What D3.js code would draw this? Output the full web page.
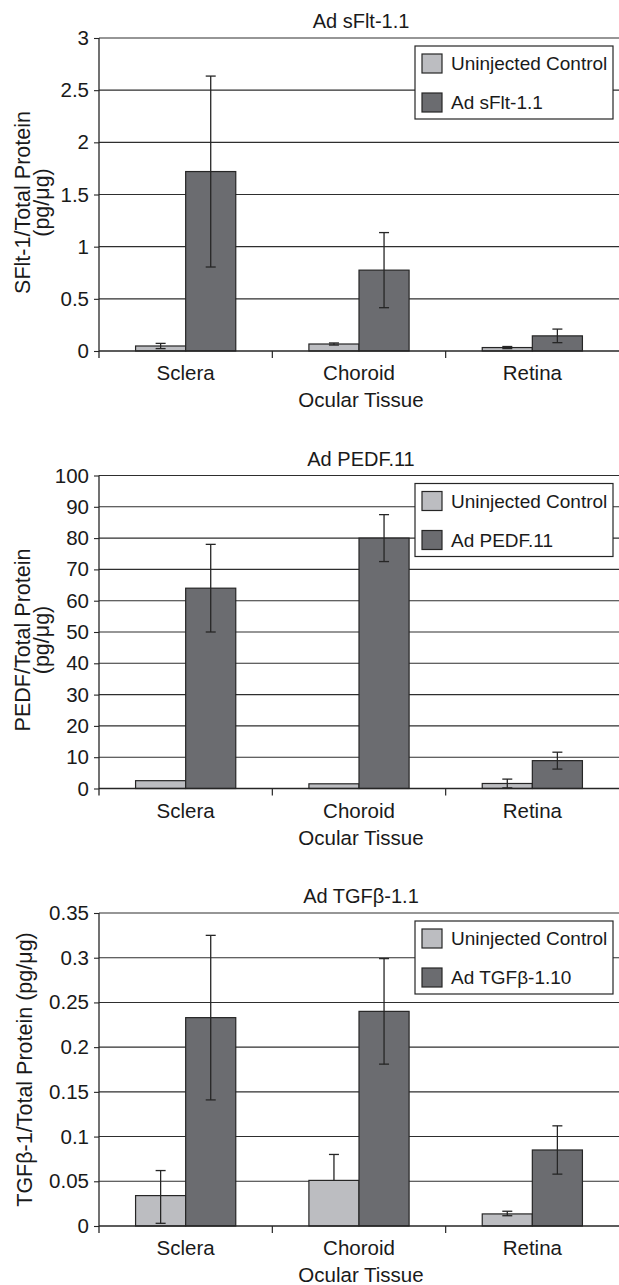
<!DOCTYPE html>
<html>
<head>
<meta charset="utf-8">
<script src="https://cdn.jsdelivr.net/npm/d3@7"></script>
<style>
  body { margin: 0; background: #fff; }
  svg text { font-family: "Liberation Sans", Arial, Helvetica, sans-serif; fill: #1a1a1a; }
</style>
</head>
<body>
<script>
// tissues on the x axis
var categories = ["Sclera", "Choroid", "Retina"];
var series_names = ["Uninjected Control", "Treated"];

// panel 1 - sFlt-1
var sflt_control = [0.048, 0.067, 0.033];
var sflt_control_err = [0.025, 0.010, 0.010];
var sflt_ad = [1.72, 0.775, 0.145];
var sflt_ad_err = [0.915, 0.36, 0.065];
var sflt_ticks = [0, 0.5, 1, 1.5, 2, 2.5, 3];

// panel 2 - PEDF
var pedf_control = [2.5, 1.5, 1.6];
var pedf_control_err = [0, 0, 1.4];
var pedf_ad = [64, 80, 8.9];
var pedf_ad_err = [14, 7.5, 2.7];
var pedf_ticks = [0, 10, 20, 30, 40, 50, 60, 70, 80, 90, 100];

// panel 3 - TGFb-1 (choroid control only has the upper half)
var tgf_control = [0.034, 0.051, 0.0135];
var tgf_control_err_up = [0.028, 0.029, 0.003];
var tgf_control_err_down = [0.031, 0, 0.002];
var tgf_ad = [0.233, 0.240, 0.085];
var tgf_ad_err = [0.092, 0.059, 0.027];
var tgf_ticks = [0, 0.05, 0.1, 0.15, 0.2, 0.25, 0.3, 0.35];

var W = 619, H = 1285;
var left = 99, right = 619;
var plot_h = 313;

// font sizes (the original type runs a bit wide)
var fs_tick = 20.5, fs_cat = 20.5, fs_title = 20, fs_ylab = 21.5, fs_leg = 19;

var col_control = "#bcbdc1";
var col_ad = "#6b6c70";
var col_line = "#262626";

var svg = d3.select("body").append("svg")
  .attr("width", W).attr("height", H);

var panels = [
  { title: "Ad sFlt-1.1", legend2: "Ad sFlt-1.1", ylab: ["SFlt-1/Total Protein", "(pg/\u03bcg)"],
    ticks: sflt_ticks, control: sflt_control, c_up: sflt_control_err, c_down: sflt_control_err,
    ad: sflt_ad, a_err: sflt_ad_err },
  { title: "Ad PEDF.11", legend2: "Ad PEDF.11", ylab: ["PEDF/Total Protein", "(pg/\u03bcg)"],
    ticks: pedf_ticks, control: pedf_control, c_up: pedf_control_err, c_down: pedf_control_err,
    ad: pedf_ad, a_err: pedf_ad_err },
  { title: "Ad TGF\u03b2-1.1", legend2: "Ad TGF\u03b2-1.10", ylab: ["TGF\u03b2-1/Total Protein (pg/\u03bcg)"],
    ticks: tgf_ticks, control: tgf_control, c_up: tgf_control_err_up, c_down: tgf_control_err_down,
    ad: tgf_ad, a_err: tgf_ad_err }
];

var draw_panel = function(p, top) {
  var g = svg.append("g");
  var bottom = top + plot_h;

  var y = d3.scaleLinear()
    .domain([0, d3.max(p.ticks)])
    .range([bottom, top]);

  var x0 = d3.scaleBand().domain(categories).range([left, right]);
  var bw = x0.bandwidth();
  var x1 = d3.scaleBand().domain(series_names).range([bw * 0.211, bw * 0.789]);

  // gridlines across the plot
  g.selectAll(".grid").data(p.ticks.slice(1)).enter().append("line")
    .attr("x1", left).attr("x2", right)
    .attr("y1", function(d){ return y(d); }).attr("y2", function(d){ return y(d); })
    .attr("stroke", "#2e2e2e").attr("stroke-width", 1.1);

  // y axis
  var yAxis = d3.axisLeft(y).tickValues(p.ticks).tickSize(5).tickPadding(5)
    .tickFormat(function(d){ return String(d); });
  var ya = g.append("g").attr("transform", "translate(" + left + ",0)").call(yAxis);
  ya.select(".domain").remove();
  ya.selectAll(".tick line").attr("stroke", col_line).attr("stroke-width", 1.1);
  ya.selectAll(".tick text").style("font-size", fs_tick + "px").attr("fill", "#1a1a1a");
  g.append("line")
    .attr("x1", left).attr("x2", left).attr("y1", top).attr("y2", bottom + 7)
    .attr("stroke", col_line).attr("stroke-width", 1.3);

  // bars
  var rows = [];
  categories.forEach(function(c, i){
    rows.push({ cat: c, s: series_names[0], v: p.control[i], up: p.c_up[i], down: p.c_down[i], fill: col_control });
    rows.push({ cat: c, s: series_names[1], v: p.ad[i], up: p.a_err[i], down: p.a_err[i], fill: col_ad });
  });

  g.selectAll(".bar").data(rows).enter().append("rect")
    .attr("x", function(d){ return x0(d.cat) + x1(d.s); })
    .attr("width", x1.bandwidth())
    .attr("y", function(d){ return y(d.v); })
    .attr("height", function(d){ return bottom - y(d.v); })
    .attr("fill", function(d){ return d.fill; })
    .attr("stroke", col_line).attr("stroke-width", 1.2);

  // x axis line + category ticks
  g.append("line")
    .attr("x1", left).attr("x2", right).attr("y1", bottom).attr("y2", bottom)
    .attr("stroke", col_line).attr("stroke-width", 1.3);
  g.selectAll(".xtick").data(categories.slice(1)).enter().append("line")
    .attr("x1", function(d){ return x0(d); }).attr("x2", function(d){ return x0(d); })
    .attr("y1", bottom).attr("y2", bottom + 7)
    .attr("stroke", col_line).attr("stroke-width", 1.2);

  // error bars
  var cap = 5;
  rows.forEach(function(d){
    if (d.up <= 0 && d.down <= 0) return;
    var cx = x0(d.cat) + x1(d.s) + x1.bandwidth() / 2;
    var yt = y(d.v + d.up), yb = y(Math.max(0, d.v - d.down));
    g.append("line").attr("x1", cx).attr("x2", cx).attr("y1", yt).attr("y2", d.down > 0 ? yb : y(d.v))
      .attr("stroke", col_line).attr("stroke-width", 1.3);
    g.append("line").attr("x1", cx - cap).attr("x2", cx + cap).attr("y1", yt).attr("y2", yt)
      .attr("stroke", col_line).attr("stroke-width", 1.3);
    if (d.down > 0) {
      g.append("line").attr("x1", cx - cap).attr("x2", cx + cap).attr("y1", yb).attr("y2", yb)
        .attr("stroke", col_line).attr("stroke-width", 1.3);
    }
  });

  // category labels
  g.selectAll(".cat").data(categories).enter().append("text")
    .attr("x", function(d){ return x0(d) + bw / 2; })
    .attr("y", bottom + 29)
    .attr("text-anchor", "middle")
    .style("font-size", fs_cat + "px")
    .text(function(d){ return d; });

  g.append("text")
    .attr("x", (left + right) / 2 + 2).attr("y", bottom + 56)
    .attr("text-anchor", "middle").style("font-size", fs_cat + "px")
    .text("Ocular Tissue");

  // title
  g.append("text")
    .attr("x", (left + right) / 2 + 2).attr("y", top - 10)
    .attr("text-anchor", "middle").style("font-size", fs_title + "px")
    .text(p.title);

  // y label (rotated)
  var yc = (top + bottom) / 2 + (p.ylab.length > 1 ? 8 : 0);
  var base_x = p.ylab.length > 1 ? 30 : 32;
  p.ylab.forEach(function(t, k){
    g.append("text")
      .attr("transform", "translate(" + (base_x + k * 19) + "," + yc + ") rotate(-90)")
      .attr("text-anchor", "middle").style("font-size", fs_ylab + "px")
      .text(t);
  });

  // legend
  var lx = 415, ly = top + 8;
  g.append("rect").attr("x", lx).attr("y", ly).attr("width", 198).attr("height", 73)
    .attr("fill", "#fff").attr("stroke", col_line).attr("stroke-width", 1.2);
  var leg = [[series_names[0], col_control], [p.legend2, col_ad]];
  leg.forEach(function(l, k){
    g.append("rect").attr("x", lx + 7).attr("y", ly + 8 + k * 39).attr("width", 20).attr("height", 19)
      .attr("fill", l[1]).attr("stroke", col_line).attr("stroke-width", 1.2);
    g.append("text").attr("x", lx + 36).attr("y", ly + 24 + k * 39)
      .style("font-size", fs_leg + "px").text(l[0]);
  });
};

panels.forEach(function(p, i){
  draw_panel(p, 38 + i * 437.5);
});
</script>
</body>
</html>
